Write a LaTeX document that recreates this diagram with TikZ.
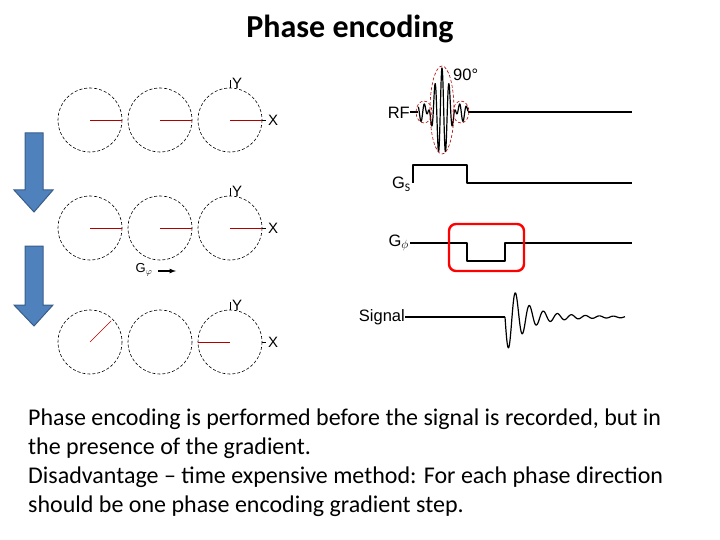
\documentclass[tikz,border=0pt]{standalone}
\usepackage{fontspec}
\setmainfont{Carlito}
\newfontfamily\arial{Liberation Sans}
\definecolor{arrblue}{HTML}{4F81BD}
\definecolor{arrline}{HTML}{385D8A}
\begin{document}
\begin{tikzpicture}[x=1pt,y=-1pt,
  circ/.style={draw,densely dashed,line width=0.6pt},
  vec/.style={draw=red!70!black,line width=0.8pt},
  wave/.style={line width=1.4pt,line join=round},
  lbl/.style={font=\arial\fontsize{15}{15}\selectfont,inner sep=0pt},
  bigarrow/.style={fill=arrblue,draw=arrline,line width=1pt},
  body/.style={font=\fontsize{24}{29}\selectfont,align=flush left,anchor=north west,inner sep=0pt,text width=700pt}]
\useasboundingbox (0,0) rectangle (720,540);
\node (title) at (350,29) {\fontsize{32}{32}\selectfont\bfseries Phase encoding};
% circles
\foreach \r/\yy in {1/120,2/228,3/342}{
  \foreach \c/\xx in {1/90,2/160,3/230}{
    \draw[circ] (\xx,\yy) circle (32);
    \coordinate (c\r\c) at (\xx,\yy);
  }
  \draw[line width=0.8pt] (230,\yy-40) -- (230,\yy-32);
  \node[lbl,anchor=west] (Y\r) at (232,\yy-37) {Y};
  \draw[line width=0.8pt] (262,\yy) -- (266,\yy);
  \node[lbl,anchor=west] (X\r) at (268,\yy) {X};
}
\foreach \r in {1,2}{\foreach \c in {1,2,3}{\draw[vec] (c\r\c) -- ++(32,0);}}
\draw[vec,line width=0.5pt] (c31) -- ++(-45:30);
\draw[vec] (c33) -- ++(-32,0);
% G phi label row
\node[lbl,font=\arial\fontsize{13}{13}\selectfont] (gphi) at (144,270) {G$_\varphi$};
\coordinate (ga) at (158,271);
\draw[-latex,line width=1.2pt] (ga) -- ++(18,0);
% big arrows
\foreach \t/\b/\h in {133/212/190,246/326/305}{
  \draw[bigarrow] (25,\t) -- (43,\t) -- (43,\h) -- (53,\h) -- (34,\b) -- (14,\h) -- (25,\h) -- cycle;
}
% RF
\node[lbl,font=\arial\fontsize{16.5}{16.5}\selectfont,anchor=east] (RF) at (410,113) {RF};
\draw[wave,line width=1.2pt] plot[domain=-23.7:26,samples=260] ({442+\x},{112-44*cos(51.43*\x)*sin(12.857*\x)/(0.2244*\x+0.0001)});
\draw[wave,line width=1.2pt] (410,112) -- (418.3,112);
\draw[wave,line width=1.2pt] (468,112) -- (632,112);
\draw[red!70!black,densely dashed,line width=0.6pt] (442,110) ellipse (12 and 44);
\draw[red!70!black,densely dashed,line width=0.6pt] (424,112) ellipse (8 and 11);
\draw[red!70!black,densely dashed,line width=0.6pt] (461,112) ellipse (8 and 11);
\node[lbl,font=\arial\fontsize{16.5}{16.5}\selectfont,anchor=west] (deg) at (453,75) {90°};
% Gs
\node[lbl,font=\arial\fontsize{16.5}{16.5}\selectfont,anchor=east] (GS) at (411,184) {G$_{\mathrm{S}}$};
\draw[wave,line width=1.2pt] (413,183) -- (413,165) -- (467,165) -- (467,183) -- (632,183);
% Gphi
\node[lbl,font=\arial\fontsize{16.5}{16.5}\selectfont,anchor=east] (GP) at (409,243) {G$_\phi$};
\draw[wave,line width=1.2pt] (410,243) -- (467,243) -- (467,261) -- (505,261) -- (505,243) -- (632,243);
\draw[red,line width=2.4pt,rounded corners=7pt] (449,224) rectangle (524,271);
% Signal
\node[lbl,font=\arial\fontsize{16.5}{16.5}\selectfont,anchor=east] (SG) at (405,317) {Signal};
\draw[wave,line width=1.2pt] (405,317) -- (505,317);
\draw[wave,line width=1.2pt] plot[domain=0:120,samples=300] ({505+\x},{317+32/(1+0.003*\x*\x)*sin(25.714*\x)});
% body
\node[body] (txt) at (28,409) {Phase encoding is performed before the signal is recorded, but in\\the presence of the gradient.\\Disadvantage -- time expensive method: For each phase direction\\should be one phase encoding gradient step.};
\end{tikzpicture}
\end{document}
